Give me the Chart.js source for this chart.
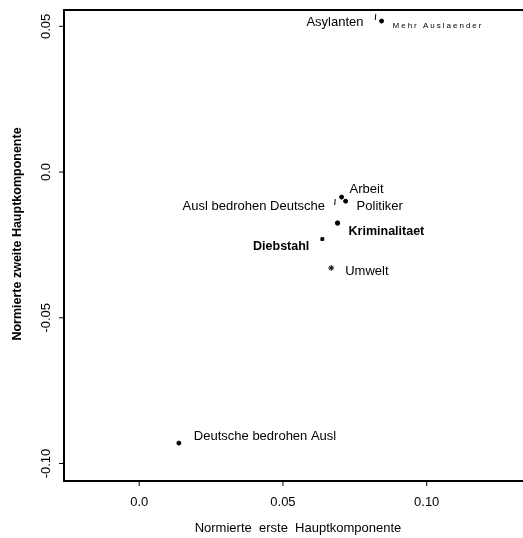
<!DOCTYPE html>
<html>
<head>
<meta charset="utf-8">
<script src="https://cdn.jsdelivr.net/npm/chart.js@4/dist/chart.umd.min.js"></script>
<style>
  html, body { margin: 0; padding: 0; background: #fff; }
  #wrap { width: 523px; height: 538px; }
</style>
</head>
<body>
<div id="wrap"><canvas id="myChart" width="523" height="538"></canvas></div>
<script>
// data
var labels = ['Asylanten', 'Mehr Auslaender', 'Arbeit', 'Politiker', 'Ausl bedrohen Deutsche',
              'Kriminalitaet', 'Diebstahl', 'Umwelt', 'Deutsche bedrohen Ausl'];
var comp1 = [0.0822, 0.0843, 0.0704, 0.0718, 0.0681, 0.0690, 0.0637, 0.0668, 0.0138];
var comp2 = [0.0532, 0.0518, -0.0086, -0.0100, -0.0103, -0.0175, -0.0230, -0.0329, -0.0930];
var xTicks = [0.0, 0.05, 0.10];
var xTickLabels = ['0.0', '0.05', '0.10'];
var yTicks = [0.05, 0.0, -0.05, -0.10];
var yTickLabels = ['0.05', '0.0', '-0.05', '-0.10'];

var f13 = '13px "Liberation Sans", Arial';
// label placement relative to each point: dx, dy, align, font
var labelPos = [
    [-12, 5, 'right', f13],
    [11, 5, 'left', '8px "Liberation Sans", Arial'],
    [8, -8, 'left', f13],
    [11, 5, 'left', f13],
    [-10, 4, 'right', f13],
    [11, 8, 'left', 'bold 12.5px "Liberation Sans", Arial'],
    [-13, 7, 'right', 'bold 12.5px "Liberation Sans", Arial'],
    [14, 3, 'left', f13],
    [15, -7, 'left', f13]
];
var styles = ['line', 'circle', 'circle', 'circle', 'line', 'circle', 'rect', 'star', 'circle'];
var radii = [3, 2, 2, 2, 3, 2.2, 2, 3, 2];
var rot = [95, 0, 0, 0, 95, 0, 0, 0, 0];

var points = comp1.map(function(v, i) { return {x: v, y: comp2[i]}; });

var frame = {
    id: 'frame',
    afterDatasetsDraw: function(chart) {
        var c = chart.ctx, a = chart.chartArea;
        var sx = chart.scales.x, sy = chart.scales.y;
        c.save();
        c.strokeStyle = '#000';
        c.fillStyle = '#000';
        c.lineWidth = 2;
        c.beginPath();
        c.moveTo(a.right, a.top); c.lineTo(a.left, a.top);
        c.lineTo(a.left, a.bottom); c.lineTo(a.right, a.bottom);
        c.stroke();

        c.lineWidth = 1;
        c.font = '13px "Liberation Sans", Arial';
        c.textAlign = 'center';
        c.textBaseline = 'middle';
        xTicks.forEach(function(t, i) {
            var px = sx.getPixelForValue(t);
            c.beginPath(); c.moveTo(px, a.bottom); c.lineTo(px, a.bottom + 5); c.stroke();
            c.fillText(xTickLabels[i], px, 502);
        });
        yTicks.forEach(function(t, i) {
            var py = sy.getPixelForValue(t);
            c.beginPath(); c.moveTo(a.left, py); c.lineTo(a.left - 5, py); c.stroke();
            c.save();
            c.translate(46, py);
            c.rotate(-Math.PI / 2);
            c.fillText(yTickLabels[i], 0, 0);
            c.restore();
        });

        c.fillText('Normierte  erste  Hauptkomponente', 298, 528);
        c.save();
        c.translate(18, 234);
        c.rotate(-Math.PI / 2);
        c.font = 'bold 12.5px "Liberation Sans", Arial';
        c.fillText('Normierte zweite Hauptkomponente', 0, 0);
        c.restore();

        // point labels
        var meta = chart.getDatasetMeta(0);
        meta.data.forEach(function(el, i) {
            var p = labelPos[i];
            c.font = p[3];
            c.textAlign = p[2];
            c.letterSpacing = (i === 1) ? '2px' : '0px';
            c.fillText(labels[i], el.x + p[0], el.y + p[1]);
        });
        c.restore();
    }
};

var ctx = document.getElementById('myChart').getContext('2d');
var myChart = new Chart(ctx, {
    type: 'scatter',
    data: {
        datasets: [{
            label: 'Hauptkomponenten',
            data: points,
            pointStyle: styles,
            pointRadius: radii,
            pointRotation: rot,
            backgroundColor: '#000',
            borderColor: '#000',
            borderWidth: 1
        }]
    },
    options: {
        responsive: false,
        animation: false,
        layout: { autoPadding: false, padding: { left: 64, top: 10, right: 0, bottom: 57 } },
        plugins: { legend: { display: false }, tooltip: { enabled: false } },
        scales: {
            x: { type: 'linear', display: false, min: -0.02615, max: 0.1335 },
            y: { type: 'linear', display: false, min: -0.106, max: 0.0556 }
        }
    },
    plugins: [frame]
});
</script>
</body>
</html>
